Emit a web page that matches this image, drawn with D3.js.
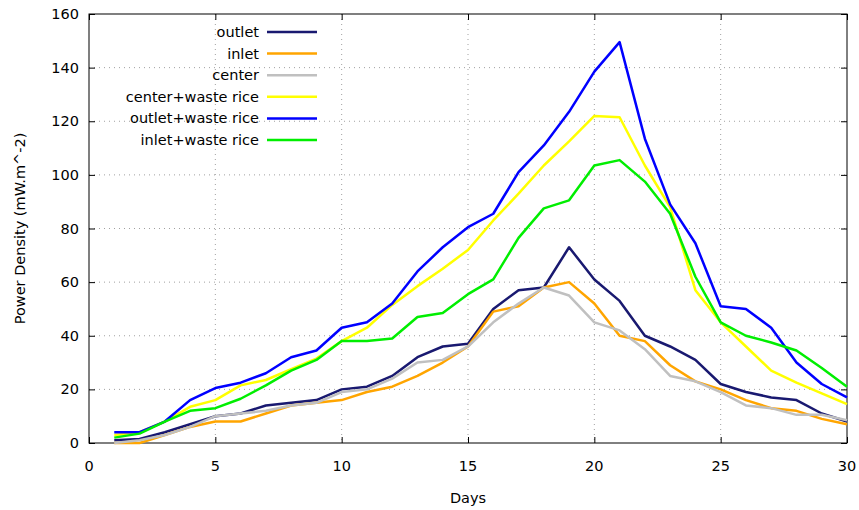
<!DOCTYPE html>
<html lang="en">
<head>
    <title>Power Density</title>
    <script src='https://d3js.org/d3.v7.min.js'></script>
    <style>
        body { margin: 0; background: #fff; }
        text { font-family: "DejaVu Sans", Verdana, sans-serif; fill: #000; }
    </style>
</head>
<body>
<script>
    // Data
    const days = d3.range(1, 31);
    const outlet        = [1,1.5,4,7,10,11,14,15,16,20,21,25,32,36,37,50,57,58,73,61,53,40,36,31,22,19,17,16,11,8];
    const inlet         = [0,0,3,6,8,8,11,14,15,16,19,21,25,30,36,49,51,58,60,52,40,38,29,23,20,16,13,12,9,7];
    const center        = [0,1,3,6,10,11,12,14,15,19,20,24,30,31,36,45,52,58,55,45,42,35,25,23,19,14,13,10.5,10.5,8.5];
    const centerRice    = [3,4,8,13.5,16,21.5,23.5,27.5,31.5,38,43,51.5,58.5,65,72,83,93,103.5,112.5,122,121.5,103.5,88,57,45,36,27,22.5,18.5,14.5];
    const outletRice    = [4,4,8,16,20.5,22.5,26,32,34.5,43,45,52,64,73,80.5,85.5,101,111,123.5,138.5,149.5,113.5,89,74.5,51,50,43,30,22,17];
    const inletRice     = [2,3.5,8,12,13,16.5,21.5,27,31,38,38,39,47,48.5,55.5,61,76.5,87.5,90.5,103.5,105.5,97.5,85.5,62,45,40,37.5,34.5,28,21];

    const seriesNames  = ["outlet", "inlet", "center", "center+waste rice", "outlet+waste rice", "inlet+waste rice"];
    const seriesValues = [outlet, inlet, center, centerRice, outletRice, inletRice];
    const colors       = ["#191970", "#ffa500", "#c0c0c0", "#ffff00", "#0000ff", "#00ee00"];

    const xTicks = [0, 5, 10, 15, 20, 25, 30];
    const yTicks = [0, 20, 40, 60, 80, 100, 120, 140, 160];

    // Dimensions
    const width  = 859;
    const height = 510;
    const pLeft = 89, pRight = 847, pTop = 14, pBottom = 443;
    const fontSize = 14.5;

    const svg = d3.select("body")
        .append("svg")
        .attr("width", width)
        .attr("height", height);

    const x = d3.scaleLinear().domain([0, 30]).range([pLeft, pRight]);
    const y = d3.scaleLinear().domain([0, 160]).range([pBottom, pTop]);

    // grid
    svg.append("g")
        .selectAll("line")
        .data(xTicks.slice(1, -1))
        .enter()
        .append("line")
        .attr("x1", d => x(d)).attr("x2", d => x(d))
        .attr("y1", pTop).attr("y2", pBottom)
        .attr("stroke", "#a0a0a0")
        .attr("stroke-width", 1)
        .attr("stroke-dasharray", "1,4");

    svg.append("g")
        .selectAll("line")
        .data(yTicks.slice(1, -1))
        .enter()
        .append("line")
        .attr("x1", pLeft).attr("x2", pRight)
        .attr("y1", d => y(d)).attr("y2", d => y(d))
        .attr("stroke", "#a0a0a0")
        .attr("stroke-width", 1)
        .attr("stroke-dasharray", "1,4");

    // axes with inward ticks, mirrored
    const tickLen = 6;
    svg.append("g")
        .attr("transform", `translate(0,${pBottom})`)
        .call(d3.axisTop(x).tickValues(xTicks).tickSize(tickLen).tickFormat(""))
        .call(g => g.select(".domain").remove());
    svg.append("g")
        .attr("transform", `translate(0,${pTop})`)
        .call(d3.axisBottom(x).tickValues(xTicks).tickSize(tickLen).tickFormat(""))
        .call(g => g.select(".domain").remove());
    svg.append("g")
        .attr("transform", `translate(${pLeft},0)`)
        .call(d3.axisRight(y).tickValues(yTicks).tickSize(tickLen).tickFormat(""))
        .call(g => g.select(".domain").remove());
    svg.append("g")
        .attr("transform", `translate(${pRight},0)`)
        .call(d3.axisLeft(y).tickValues(yTicks).tickSize(tickLen).tickFormat(""))
        .call(g => g.select(".domain").remove());
    svg.selectAll(".tick line").attr("stroke", "#000").attr("stroke-width", 1);

    // tick labels
    svg.append("g")
        .selectAll("text")
        .data(xTicks)
        .enter()
        .append("text")
        .attr("x", d => x(d))
        .attr("y", pBottom + 28)
        .attr("text-anchor", "middle")
        .attr("font-size", fontSize)
        .text(d => d);

    svg.append("g")
        .selectAll("text")
        .data(yTicks)
        .enter()
        .append("text")
        .attr("x", pLeft - 10)
        .attr("y", d => y(d) + 5)
        .attr("text-anchor", "end")
        .attr("font-size", fontSize)
        .text(d => d);

    // border
    svg.append("rect")
        .attr("x", pLeft).attr("y", pTop)
        .attr("width", pRight - pLeft).attr("height", pBottom - pTop)
        .attr("fill", "none")
        .attr("stroke", "#000")
        .attr("stroke-width", 1);

    // axis titles
    svg.append("text")
        .attr("x", (pLeft + pRight) / 2)
        .attr("y", 503)
        .attr("text-anchor", "middle")
        .attr("font-size", fontSize)
        .text("Days");

    svg.append("text")
        .attr("transform", `translate(25,${(pTop + pBottom) / 2}) rotate(-90)`)
        .attr("text-anchor", "middle")
        .attr("font-size", fontSize)
        .text("Power Density (mW.m^-2)");

    // lines
    const line = d3.line()
        .x((d, i) => x(days[i]))
        .y(d => y(d));

    svg.append("g")
        .selectAll("path")
        .data(seriesValues)
        .enter()
        .append("path")
        .attr("fill", "none")
        .attr("stroke", (d, i) => colors[i])
        .attr("stroke-width", 2.5)
        .attr("stroke-linejoin", "round")
        .attr("d", line);

    // legend
    const legend = svg.append("g")
        .selectAll("g")
        .data(seriesNames)
        .enter()
        .append("g")
        .attr("transform", (d, i) => `translate(0,${32 + i * 21.6})`);

    legend.append("text")
        .attr("x", 259)
        .attr("y", 5)
        .attr("text-anchor", "end")
        .attr("font-size", fontSize)
        .text(d => d);

    legend.append("line")
        .attr("x1", 267).attr("x2", 317)
        .attr("y1", 0).attr("y2", 0)
        .attr("stroke", (d, i) => colors[i])
        .attr("stroke-width", 2.5);
</script>
</body>
</html>
